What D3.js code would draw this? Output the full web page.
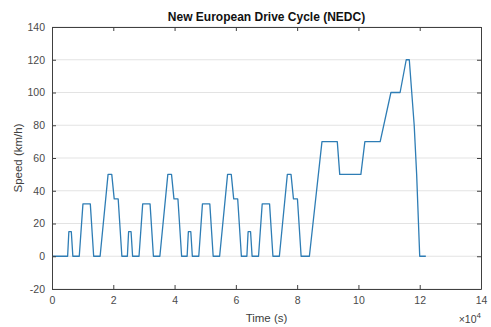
<!DOCTYPE html>
<html>
<head>
<meta charset="utf-8">
<script src="https://cdn.jsdelivr.net/npm/d3@7"></script>
<style>
  body { margin: 0; background: #fff; }
  svg { font-family: "Liberation Sans", Arial, sans-serif; }
</style>
</head>
<body>
<svg id="chart" width="491" height="327"></svg>
<script>
// Breakpoints of the NEDC speed trace (time axis in units shown on the plot, x10^4)
const timePoints = [
  0, 5100, 5500, 6300, 6800, 8900, 10100, 12500, 13600, 15700, 18300, 19500, 20300, 21600, 22800,
  24600, 25000, 25800, 26300, 28400, 29600, 32000, 33100, 35200, 37800, 39000, 39800, 41100, 42300,
  44100, 44500, 45300, 45800, 47900, 49100, 51500, 52600, 54700, 57300, 58500, 59300, 60600, 61800,
  63600, 64000, 64800, 65300, 67400, 68600, 71000, 72100, 74200, 76800, 78000, 78800, 80100, 81300,
  84000, 88100, 93100, 93900, 100800, 102100, 107100, 110600, 113600, 115600, 116600, 118200, 119000, 120000, 122000
];
const speedPoints = [
  0, 0, 15, 15, 0, 0, 32, 32, 0, 0, 50, 50, 35, 35, 0,
  0, 15, 15, 0, 0, 32, 32, 0, 0, 50, 50, 35, 35, 0,
  0, 15, 15, 0, 0, 32, 32, 0, 0, 50, 50, 35, 35, 0,
  0, 15, 15, 0, 0, 32, 32, 0, 0, 50, 50, 35, 35, 0,
  0, 70, 70, 50, 50, 70, 70, 100, 100, 120, 120, 80, 50, 0, 0
];
const xTicks = [0, 2, 4, 6, 8, 10, 12, 14];
const yTicks = [-20, 0, 20, 40, 60, 80, 100, 120, 140];

const data = timePoints.map((t, i) => ({ t: t, v: speedPoints[i] }));

const svg = d3.select('#chart');
const mLeft = 52, mRight = 481, mTop = 27, mBottom = 289;
const axisColor = '#404040';

const x = d3.scaleLinear().domain([0, 140000]).range([mLeft, mRight]);
const y = d3.scaleLinear().domain([-20, 140]).range([mBottom, mTop]);

// horizontal grid
svg.append('g')
  .selectAll('line')
  .data(yTicks)
  .join('line')
  .attr('x1', mLeft).attr('x2', mRight)
  .attr('y1', d => y(d)).attr('y2', d => y(d))
  .attr('stroke', '#e3e3e3')
  .attr('stroke-width', 1);

// speed trace
svg.append('path')
  .datum(data)
  .attr('fill', 'none')
  .attr('stroke', '#2e7db5')
  .attr('stroke-width', 1.3)
  .attr('stroke-linejoin', 'round')
  .attr('d', d3.line().x(d => x(d.t)).y(d => y(d.v)));

// axes (ticks inward, MATLAB box style)
const xAxis = svg.append('g')
  .attr('transform', `translate(0,${mBottom})`)
  .call(d3.axisBottom(x).tickValues(xTicks.map(d => d * 10000)).tickFormat(d => String(d / 10000))
    .tickSizeInner(-4).tickSizeOuter(0).tickPadding(8));
const xTop = svg.append('g')
  .attr('transform', `translate(0,${mTop})`)
  .call(d3.axisTop(x).tickValues(xTicks.map(d => d * 10000)).tickFormat('')
    .tickSizeInner(-4).tickSizeOuter(0));
const yAxis = svg.append('g')
  .attr('transform', `translate(${mLeft},0)`)
  .call(d3.axisLeft(y).tickValues(yTicks).tickFormat(d => String(d))
    .tickSizeInner(-4).tickSizeOuter(0).tickPadding(7));
const yRight = svg.append('g')
  .attr('transform', `translate(${mRight},0)`)
  .call(d3.axisRight(y).tickValues(yTicks).tickFormat('')
    .tickSizeInner(-4).tickSizeOuter(0));

[xAxis, xTop, yAxis, yRight].forEach(a => {
  a.select('.domain').attr('stroke', axisColor).attr('stroke-width', 1);
  a.selectAll('.tick line').attr('stroke', axisColor);
  a.selectAll('.tick text')
    .attr('fill', '#4a4a4a')
    .style('font-size', '10.5px')
    .style('font-family', '"Liberation Sans", Arial, sans-serif');
});

// title and labels
svg.append('text')
  .attr('x', (mLeft + mRight) / 2).attr('y', 21)
  .attr('text-anchor', 'middle')
  .style('font-size', '12px').style('font-weight', 'bold')
  .attr('fill', '#111')
  .text('New European Drive Cycle (NEDC)');

svg.append('text')
  .attr('x', (mLeft + mRight) / 2).attr('y', 322)
  .attr('text-anchor', 'middle')
  .style('font-size', '11.5px')
  .attr('fill', axisColor)
  .text('Time (s)');

svg.append('text')
  .attr('transform', `translate(22,${(mTop + mBottom) / 2}) rotate(-90)`)
  .attr('text-anchor', 'middle')
  .style('font-size', '11.5px')
  .attr('fill', axisColor)
  .text('Speed (km/h)');

// exponent label
const expo = svg.append('text')
  .attr('x', 481).attr('y', 323)
  .attr('text-anchor', 'end')
  .style('font-size', '10.5px')
  .attr('fill', axisColor);
expo.append('tspan').text('\u00d710');
expo.append('tspan').attr('dy', -5).style('font-size', '8px').text('4');
</script>
</body>
</html>
